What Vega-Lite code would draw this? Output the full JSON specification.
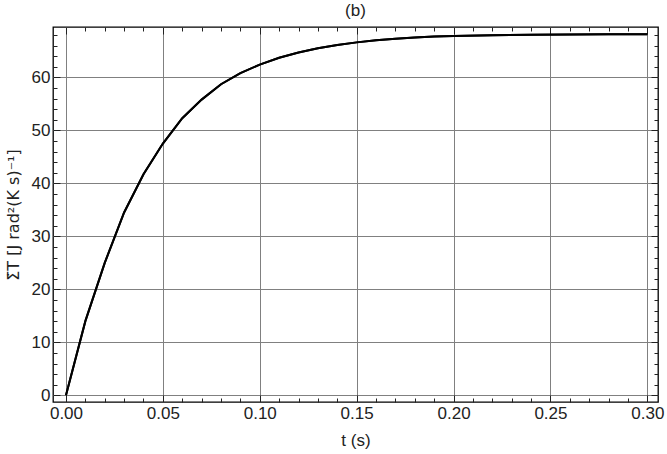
{
  "$schema": "https://vega.github.io/schema/vega-lite/v6.json",
  "autosize": "none",
  "width": 605,
  "height": 375,
  "padding": {"left": 53, "top": 27, "right": 9, "bottom": 52},
  "background": "white",
  "config": {
    "view": {"stroke": "black", "strokeWidth": 1.3},
    "font": "Liberation Sans",
    "axis": {"domain": false, "labelFont": "Liberation Sans", "labelFontSize": 17, "labelColor": "#222", "titleFont": "Liberation Sans", "titleFontWeight": "normal", "titleColor": "#222", "tickColor": "#222"}
  },
  "title": {"text": "(b)", "fontSize": 17, "fontWeight": "normal", "font": "Liberation Sans", "color": "#222", "offset": 6, "anchor": "middle"},
  "data": {"values": [
    {"t": 0.0, "v": 0.0},
    {"t": 0.01, "v": 14.0},
    {"t": 0.02, "v": 25.0},
    {"t": 0.03, "v": 34.5},
    {"t": 0.04, "v": 41.7},
    {"t": 0.05, "v": 47.5},
    {"t": 0.06, "v": 52.3},
    {"t": 0.07, "v": 55.8},
    {"t": 0.08, "v": 58.7},
    {"t": 0.09, "v": 60.8},
    {"t": 0.10, "v": 62.4},
    {"t": 0.11, "v": 63.7},
    {"t": 0.12, "v": 64.7},
    {"t": 0.13, "v": 65.5},
    {"t": 0.14, "v": 66.1},
    {"t": 0.15, "v": 66.6},
    {"t": 0.16, "v": 67.0},
    {"t": 0.17, "v": 67.3},
    {"t": 0.18, "v": 67.5},
    {"t": 0.19, "v": 67.7},
    {"t": 0.20, "v": 67.8},
    {"t": 0.22, "v": 67.95},
    {"t": 0.24, "v": 68.05},
    {"t": 0.26, "v": 68.1},
    {"t": 0.28, "v": 68.12},
    {"t": 0.30, "v": 68.15}
  ]},
  "layer": [
    {
      "mark": {"type": "line", "color": "black", "strokeWidth": 2},
      "encoding": {
        "x": {"field": "t", "type": "quantitative",
          "scale": {"domain": [-0.0067, 0.3055], "nice": false, "zero": false},
          "axis": {"orient": "bottom", "title": "t (s)", "titleFontSize": 17, "titlePadding": 8,
            "values": [0,0.01,0.02,0.03,0.04,0.05,0.06,0.07,0.08,0.09,0.1,0.11,0.12,0.13,0.14,0.15,0.16,0.17,0.18,0.19,0.2,0.21,0.22,0.23,0.24,0.25,0.26,0.27,0.28,0.29,0.3],
            "labelExpr": "round(datum.value*100) % 5 === 0 ? format(datum.value, '.2f') : ''",
            "grid": true, "gridColor": "#808080", "gridWidth": 1,
            "gridOpacity": {"condition": {"test": "round(datum.value*100) % 5 === 0", "value": 1}, "value": 0},
            "tickSize": {"condition": {"test": "round(datum.value*100) % 5 === 0", "value": -7}, "value": -4},
            "labelPadding": 10, "labelFlush": false, "labelOverlap": false}},
        "y": {"field": "v", "type": "quantitative",
          "scale": {"domain": [-1.26, 69.5], "nice": false, "zero": false},
          "axis": {"orient": "left", "title": "Σ̇T  [J rad²(K s)⁻¹]", "titleFont": "DejaVu Sans", "titleFontSize": 16, "titlePadding": 10,
            "values": [0,2,4,6,8,10,12,14,16,18,20,22,24,26,28,30,32,34,36,38,40,42,44,46,48,50,52,54,56,58,60,62,64,66,68],
            "labelExpr": "datum.value % 10 === 0 ? format(datum.value, 'd') : ''",
            "grid": true, "gridColor": "#808080", "gridWidth": 1,
            "gridOpacity": {"condition": {"test": "datum.value % 10 === 0", "value": 1}, "value": 0},
            "tickSize": {"condition": {"test": "datum.value % 10 === 0", "value": -7}, "value": -4},
            "labelPadding": 10, "labelFlush": false, "labelOverlap": false}}
      }
    },
    {
      "mark": {"type": "line", "color": "black", "strokeWidth": 2},
      "encoding": {
        "x": {"field": "t", "type": "quantitative",
          "axis": {"orient": "top", "title": null, "labels": false, "grid": false,
            "values": [0,0.01,0.02,0.03,0.04,0.05,0.06,0.07,0.08,0.09,0.1,0.11,0.12,0.13,0.14,0.15,0.16,0.17,0.18,0.19,0.2,0.21,0.22,0.23,0.24,0.25,0.26,0.27,0.28,0.29,0.3],
            "tickSize": {"condition": {"test": "round(datum.value*100) % 5 === 0", "value": -7}, "value": -4}}},
        "y": {"field": "v", "type": "quantitative",
          "axis": {"orient": "right", "title": null, "labels": false, "grid": false,
            "values": [0,2,4,6,8,10,12,14,16,18,20,22,24,26,28,30,32,34,36,38,40,42,44,46,48,50,52,54,56,58,60,62,64,66,68],
            "tickSize": {"condition": {"test": "datum.value % 10 === 0", "value": -7}, "value": -4}}}
      }
    }
  ],
  "resolve": {"axis": {"x": "independent", "y": "independent"}}
}
